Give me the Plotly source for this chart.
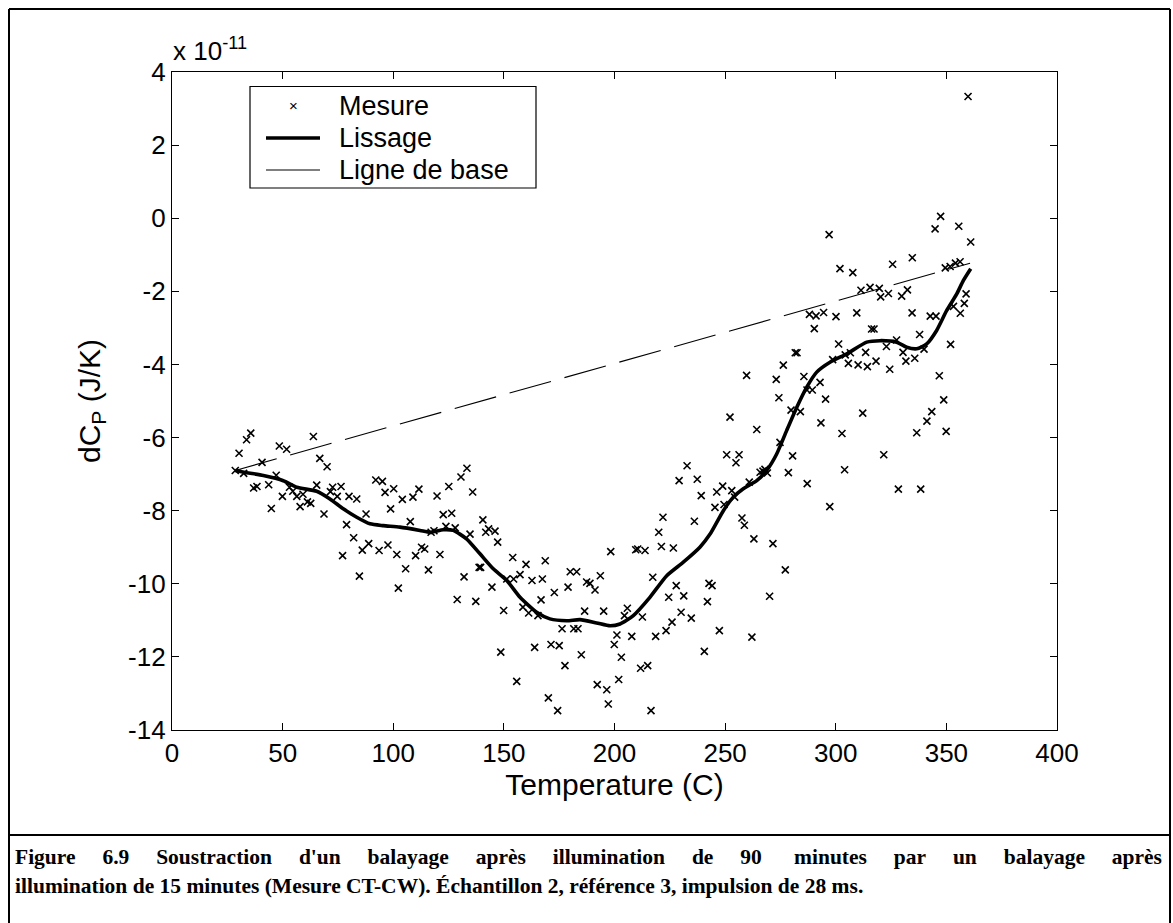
import plotly.graph_objects as go

# Measured dC_P (units of 1e-11 J/K) against temperature (C)
temp_meas = [
    28.6, 30.3, 32.4, 33.7, 35.6, 36.9, 38.4, 40.7, 43.7, 44.9, 47.1, 48.5, 49.9, 51.8, 53.1,
    54.6, 56.4, 57.9, 59.2, 61.2, 62.7, 63.9, 65.4, 66.8, 68.7, 70.1, 71.6, 72.6, 74.7, 76.4,
    77.1, 78.9, 80.0, 82.1, 83.5, 84.7, 86.0, 87.7, 88.9, 92.1, 93.6, 95.1, 96.3, 97.6, 98.8,
    100.2, 101.6, 102.3, 104.1, 105.6, 107.7, 108.9, 110.1, 111.6, 112.8, 114.2, 115.9, 117.1,
    118.4, 119.8, 121.1, 122.6, 123.8, 125.1, 126.4, 128.0, 128.9, 130.6, 132.0, 133.3, 134.7,
    135.9, 137.3, 138.8, 139.5, 140.5, 141.8, 143.1, 144.6, 146.0, 147.2, 148.6, 149.9, 151.3,
    154.0, 154.4, 155.8, 157.3, 158.6, 160.0, 161.2, 162.7, 163.9, 165.4, 166.8, 167.4, 168.7,
    170.1, 171.3, 172.8, 174.3, 175.0, 176.3, 177.6, 179.0, 180.0, 181.6, 182.9, 183.5, 185.0,
    186.5, 187.4, 188.9, 191.2, 192.2, 193.6, 195.1, 196.5, 197.2, 198.3, 199.9, 201.1, 201.9,
    203.1, 204.5, 205.8, 207.8, 209.6, 210.5, 211.8, 212.6, 213.8, 215.0, 216.5, 217.3, 218.6,
    220.0, 221.2, 221.9, 223.3, 224.5, 226.0, 226.6, 227.9, 229.2, 230.1, 231.3, 232.8, 234.7,
    236.1, 237.4, 239.2, 240.6, 242.0, 242.7, 244.1, 245.4, 246.2, 247.4, 248.9, 249.5, 250.7,
    252.2, 253.0, 254.3, 254.9, 256.3, 257.6, 258.7, 259.7, 260.9, 262.1, 263.0, 264.3, 265.8,
    267.1, 268.0, 269.1, 270.1, 271.6, 273.1, 274.3, 274.8, 276.3, 277.2, 278.6, 279.8, 280.5,
    281.7, 282.5, 284.0, 285.6, 287.0, 287.1, 288.1, 289.4, 290.3, 291.1, 292.9, 293.3, 294.5,
    295.4, 297.0, 297.3, 298.6, 300.1, 301.3, 301.9, 302.8, 304.0, 304.3, 305.7, 306.6, 307.7,
    309.5, 310.1, 311.4, 312.2, 313.5, 314.3, 315.5, 316.2, 317.3, 318.2, 319.7, 320.3, 321.7,
    322.9, 323.8, 324.4, 325.7, 327.5, 328.3, 329.8, 330.4, 331.7, 332.4, 334.5, 334.6, 335.7,
    336.6, 337.9, 338.4, 339.9, 341.2, 342.7, 343.4, 344.9, 345.3, 346.8, 347.4, 348.8, 349.5,
    349.9, 351.7, 351.9, 353.2, 354.1, 355.6, 356.2, 356.3, 358.1, 358.9, 359.8, 361.0,
]
dcp_meas = [
    -6.90, -6.43, -6.98, -6.06, -5.88, -7.38, -7.34, -6.68, -7.29, -7.94, -7.03, -6.23, -7.61, -6.32, -7.36,
    -7.47, -7.61, -7.89, -7.55, -7.76, -7.80, -5.97, -7.30, -6.57, -8.09, -6.80, -7.48, -7.36, -7.61, -7.34,
    -9.23, -8.38, -7.61, -8.74, -7.68, -9.79, -9.08, -8.09, -8.90, -7.16, -9.09, -7.20, -7.50, -8.94, -7.95,
    -7.40, -9.20, -10.12, -7.69, -9.59, -8.30, -7.63, -9.23, -7.41, -9.00, -9.05, -9.62, -8.59,
    -8.55, -7.60, -9.20, -8.11, -8.43, -7.34, -8.07, -8.47, -10.43, -7.08, -9.81, -6.84, -8.64,
    -7.49, -10.48, -9.55, -9.55, -8.25, -8.59, -8.50, -10.09, -8.56, -8.86, -11.87, -10.73, -9.87,
    -9.28, -9.87, -12.67, -9.75, -10.64, -9.47, -10.80, -9.91, -11.74, -10.87, -10.44, -9.87, -9.37,
    -13.12, -11.66, -10.24, -13.47, -11.69, -11.23, -12.24, -10.09, -9.67, -11.23, -9.67, -11.23, -11.94,
    -10.75, -9.95, -9.99, -10.17, -12.76, -9.78, -10.75, -12.90, -13.29, -9.12, -11.66, -11.40, -12.62,
    -12.01, -10.87, -10.67, -11.44, -9.07, -9.05, -12.31, -10.91, -9.09, -12.24, -13.47, -9.82, -11.44,
    -8.59, -8.98, -8.18, -11.28, -10.37, -11.05, -9.02, -10.05, -7.18, -10.78, -10.33, -6.77, -10.94,
    -8.29, -7.14, -7.59, -11.85, -10.49, -9.99, -10.05, -7.91, -7.49, -11.28, -7.33, -7.83, -6.47,
    -5.44, -7.45, -7.63, -6.69, -6.47, -8.20, -8.40, -4.30, -7.22, -11.46, -8.77, -5.78, -6.95,
    -6.92, -6.87, -6.97, -10.34, -8.90, -4.41, -4.91, -6.13, -4.02, -9.62, -6.96, -5.25, -6.50,
    -3.68, -3.68, -5.29, -4.33, -4.70, -7.26, -2.63, -4.70, -3.02, -2.67, -4.49, -5.60, -2.58,
    -4.95, -0.45, -7.89, -3.87, -2.69, -3.44, -1.38, -5.89, -6.88, -3.74, -3.97, -3.68, -1.49,
    -2.59, -4.01, -1.97, -5.33, -3.67, -4.06, -1.89, -3.03, -3.03, -3.91, -1.92, -2.15, -6.47,
    -3.51, -2.06, -4.13, -1.26, -3.33, -7.41, -2.13, -3.67, -3.91, -1.96, -2.59, -1.08, -3.83,
    -5.87, -3.18, -7.41, -3.58, -5.55, -2.68, -5.29, -0.29, -2.68, -4.31, 0.05, -4.97, -1.36,
    -5.83, -1.32, -3.45, -2.41, -1.23, -0.22, -1.19, -2.60, -2.33, -2.07, 3.33, -0.65,
]

# Smoothed curve ("Lissage")
temp_smooth = [
    28.6, 33.7, 41.3, 50.3, 56.4, 65.4, 71.4, 77.4, 83.5, 89.5, 95.5, 103.0, 112.1, 116.6,
    122.6, 127.1, 133.1, 139.2, 145.2, 151.3, 157.3, 164.8, 170.8, 178.4, 184.4, 191.9, 198.0,
    202.5, 208.5, 216.0, 223.6, 231.1, 238.6, 243.2, 249.2, 253.7, 258.2, 264.3, 268.8, 273.3,
    277.8, 282.4, 286.9, 291.4, 297.4, 305.0, 314.0, 320.0, 327.5, 332.1, 336.6, 341.1, 345.6,
    350.1, 354.7, 357.7, 361.0,
]
dcp_smooth = [
    -6.90, -6.96, -7.04, -7.18, -7.36, -7.47, -7.68, -7.95, -8.18, -8.36, -8.41, -8.45, -8.54, -8.59,
    -8.52, -8.54, -8.77, -9.18, -9.59, -9.91, -10.37, -10.78, -10.96, -11.01, -10.98, -11.07, -11.15,
    -11.10, -10.87, -10.37, -9.78, -9.41, -9.00, -8.64, -8.00, -7.63, -7.40, -7.18, -6.90, -6.45,
    -5.81, -5.17, -4.62, -4.21, -3.94, -3.71, -3.39, -3.35, -3.39, -3.53, -3.57, -3.44, -3.07,
    -2.53, -2.07, -1.70, -1.38,
]

# Baseline ("Ligne de base") end points
temp_base = [28.6, 360.7]
dcp_base = [-6.90, -1.23]

x_ticks = [0, 50, 100, 150, 200, 250, 300, 350, 400]
y_ticks = [-14, -12, -10, -8, -6, -4, -2, 0, 2, 4]
y_ticktext = [str(v) for v in y_ticks]

legend_labels = ["Mesure", "Lissage", "Ligne de base"]

W, H = 1173, 923
PX_L, PX_R, PX_T, PX_B = 172, 1057, 72, 730
SANS = "Liberation Sans, Arial, Helvetica, sans-serif"
SERIF = "Liberation Serif, Times New Roman, serif"


def px_x(x):
    return (x - PX_L) / (PX_R - PX_L)


def px_y(y):
    return (PX_B - y) / (PX_B - PX_T)


fig = go.Figure()
fig.add_trace(go.Scatter(
    x=temp_meas, y=dcp_meas, mode="markers", name=legend_labels[0],
    marker=dict(symbol="x-thin", size=7, color="black", line=dict(width=1.6, color="black")),
    showlegend=False,
))
fig.add_trace(go.Scatter(
    x=temp_smooth, y=dcp_smooth, mode="lines", name=legend_labels[1],
    line=dict(color="black", width=3.6, shape="spline", smoothing=0.6),
    showlegend=False,
))
fig.add_trace(go.Scatter(
    x=temp_base, y=dcp_base, mode="lines", name=legend_labels[2],
    line=dict(color="black", width=1.1, dash="43px,14px"),
    showlegend=False,
))

shapes = []
# figure frame and caption separator
frame = dict(type="line", xref="paper", yref="paper", line=dict(color="black", width=2))
shapes.append({**frame, "x0": px_x(9), "x1": px_x(9), "y0": px_y(9), "y1": px_y(930)})
shapes.append({**frame, "x0": px_x(1170), "x1": px_x(1170), "y0": px_y(9), "y1": px_y(930)})
shapes.append({**frame, "x0": px_x(9), "x1": px_x(1170), "y0": px_y(9), "y1": px_y(9)})
shapes.append({**frame, "x0": px_x(9), "x1": px_x(1170), "y0": px_y(835), "y1": px_y(835)})

# legend box and line samples
shapes.append(dict(type="rect", xref="paper", yref="paper",
                   x0=px_x(250), x1=px_x(536), y0=px_y(86.5), y1=px_y(188),
                   line=dict(color="black", width=1.2), fillcolor="white"))
shapes.append(dict(type="line", xref="paper", yref="paper",
                   x0=px_x(266), x1=px_x(320), y0=px_y(138), y1=px_y(138),
                   line=dict(color="black", width=3.6)))
shapes.append(dict(type="line", xref="paper", yref="paper",
                   x0=px_x(266), x1=px_x(320), y0=px_y(170), y1=px_y(170),
                   line=dict(color="black", width=1.1)))

annotations = []
for label, ypx in zip(legend_labels, [106, 138, 170]):
    annotations.append(dict(text=label, xref="paper", yref="paper", x=px_x(337), y=px_y(ypx),
                            xanchor="left", yanchor="middle", showarrow=False,
                            font=dict(family=SANS, size=27, color="black")))
annotations.append(dict(text="\u00d7", xref="paper", yref="paper", x=px_x(293), y=px_y(106),
                        xanchor="center", yanchor="middle", showarrow=False,
                        font=dict(family=SANS, size=15, color="black")))

# exponent of the y axis
annotations.append(dict(text="x 10<sup>-11</sup>", xref="paper", yref="paper",
                        x=px_x(171), y=px_y(68), xanchor="left", yanchor="bottom",
                        showarrow=False, font=dict(family=SANS, size=26, color="black")))

# caption (first line justified to the frame width)
cap1_words = ["Figure", "6.9", "Soustraction", "d'un", "balayage", "après", "illumination",
              "de", "90", "minutes", "par", "un", "balayage", "après"]
gaps = [5, 5, 5, 5, 5, 5, 5, 5, 6, 5, 5, 5, 5]
cap1 = cap1_words[0]
for g, w in zip(gaps, cap1_words[1:]):
    cap1 += "\u00a0" * g + w
cap2 = "illumination de 15 minutes (Mesure CT-CW). Échantillon 2, référence 3, impulsion de 28 ms."
for text, ypx in [(cap1, 857), (cap2, 886)]:
    annotations.append(dict(text="<b>" + text + "</b>", xref="paper", yref="paper",
                            x=px_x(13), y=px_y(ypx), xanchor="left", yanchor="middle",
                            showarrow=False, font=dict(family=SERIF, size=21.5, color="black")))

axis_common = dict(showline=True, linecolor="black", linewidth=1.3, mirror="ticks",
                   ticks="inside", ticklen=7, tickwidth=1, tickcolor="black",
                   showgrid=False, zeroline=False,
                   tickfont=dict(family=SANS, size=26, color="black"))

fig.update_layout(
    width=W, height=H, autosize=False,
    margin=dict(l=PX_L, r=W - PX_R, t=PX_T, b=H - PX_B, pad=0),
    paper_bgcolor="white", plot_bgcolor="white",
    showlegend=False,
    shapes=shapes, annotations=annotations,
    xaxis=dict(range=[0, 400], tickvals=x_ticks,
               title=dict(text="Temperature (C)", standoff=6,
                          font=dict(family=SANS, size=30, color="black")),
               **axis_common),
    yaxis=dict(range=[-14, 4], tickvals=y_ticks, ticktext=y_ticktext,
               title=dict(text="dC<sub>P</sub> (J/K)", standoff=18,
                          font=dict(family=SANS, size=30, color="black")),
               **axis_common),
)

fig.write_html("out.html")
